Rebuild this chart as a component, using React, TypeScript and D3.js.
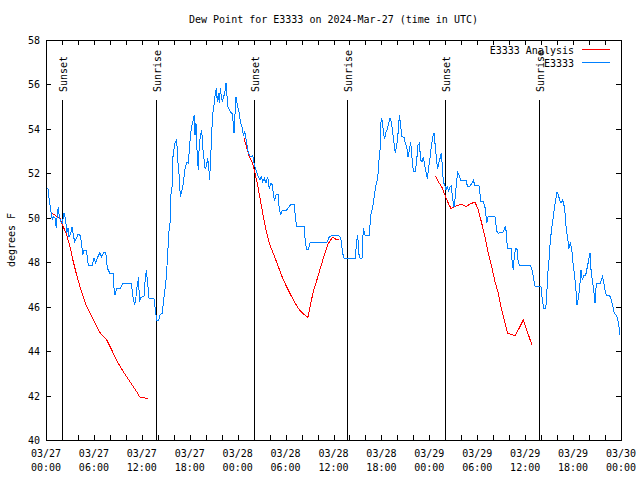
import React from "react";
import * as d3 from "d3";

// Hours since 2024-03-27 00:00 UTC
const stationHours = [0.25,0.34,0.46,0.66,0.79,0.91,1.13,1.29,1.42,1.54,1.67,1.84,2.04,2.25,2.38,2.5,2.59,2.75,2.88,3.09,3.26,3.42,3.59,3.79,4.04,4.26,4.42,4.6,4.76,5.05,5.17,5.3,5.8,6.01,6.22,6.42,6.76,6.97,7.18,7.48,7.68,8.01,8.39,8.52,8.64,8.85,9.35,9.55,9.98,10.68,10.89,11.11,11.27,11.43,11.61,11.68,11.86,12.06,12.27,12.4,12.56,12.73,12.9,13.52,13.69,13.86,14.11,14.28,14.53,14.69,14.86,15.03,15.24,15.36,15.53,15.61,15.78,15.87,16.07,16.19,16.37,16.49,16.69,16.82,16.99,17.19,17.44,17.66,17.82,17.94,18.12,18.28,18.45,18.57,18.66,18.78,18.91,19.07,19.2,19.32,19.5,19.62,19.78,19.91,20.07,20.25,20.37,20.5,20.57,20.7,20.79,20.91,21.08,21.2,21.33,21.45,21.58,21.7,21.83,21.95,22.08,22.25,22.41,22.54,22.67,22.79,22.95,23.13,23.29,23.45,23.54,23.67,23.79,23.92,24.08,24.21,24.33,24.54,24.71,24.88,25.04,25.26,25.46,25.67,25.88,26.01,26.17,26.38,26.58,26.8,26.96,27.14,27.34,27.55,27.76,27.96,28.17,28.39,28.46,28.64,28.8,29.05,29.18,29.39,29.55,30.14,30.43,30.64,31.06,31.27,31.39,32.35,32.47,32.65,32.85,33.06,35.15,35.48,35.78,36.6,36.9,37.15,37.32,38.73,38.91,39.04,39.16,39.32,39.57,39.73,39.94,40.48,40.66,40.91,41.16,41.32,41.49,41.66,41.74,41.83,41.92,41.96,42.05,42.17,42.25,42.33,42.42,42.5,42.74,42.92,43.08,43.25,43.42,43.58,43.74,43.92,44.08,44.25,44.42,44.58,44.83,44.99,45.17,45.33,45.5,45.67,45.83,46.0,46.25,46.42,46.58,46.75,46.92,47.08,47.25,47.42,47.58,47.75,47.92,48.08,48.25,48.42,48.59,48.75,48.92,49.05,49.17,49.34,49.5,49.63,49.75,49.93,50.09,50.25,50.43,50.59,50.75,50.93,51.09,51.25,51.43,51.55,51.75,51.93,52.59,52.76,53.09,53.34,53.51,53.68,54.26,54.43,54.76,55.01,55.19,55.35,56.22,56.44,56.64,57.27,57.48,57.64,57.77,58.23,58.39,58.52,58.64,58.82,58.98,59.14,59.32,60.61,60.82,61.02,61.23,61.98,62.15,62.33,62.58,62.7,62.83,62.99,63.15,63.33,63.49,63.65,63.83,63.99,64.15,64.33,64.49,64.66,64.83,64.99,65.15,65.33,65.49,65.65,65.83,65.99,66.15,66.33,66.49,66.66,66.83,66.99,67.16,67.33,67.58,67.83,67.99,68.12,68.25,68.41,68.58,68.75,68.91,69.41,69.66,69.83,70.0,70.16,70.41,70.66,70.83,71.0,71.16,71.41,71.58,71.75,71.88];
const stationValues = [51.32,51.0,50.67,50.2,49.9,50.05,50.0,49.54,50.2,50.5,50.05,49.82,49.75,50.23,50.05,49.75,49.3,49.54,49.15,49.3,49.6,49.22,48.92,49.08,49.27,49.2,48.92,48.32,48.55,48.55,48.22,47.87,47.87,48.19,47.96,48.19,48.43,48.22,48.43,48.43,47.73,47.5,47.5,46.83,46.52,46.8,46.83,47.02,47.05,47.05,46.45,46.07,46.45,46.97,47.35,46.22,46.4,46.45,46.45,47.12,47.65,47.05,46.38,46.38,45.85,45.37,45.37,45.62,45.7,46.15,46.67,47.2,48.32,49.3,49.75,50.95,51.4,52.67,53.2,53.42,53.5,52.6,51.85,50.95,51.17,51.55,52.3,52.52,52.45,53.05,53.8,54.17,54.4,54.62,53.72,54.25,53.05,52.15,53.35,53.65,53.95,53.2,52.67,52.22,52.3,52.67,52.3,51.7,52.45,53.27,54.1,54.77,55.15,55.6,55.82,55.22,55.6,55.15,55.82,55.45,55.22,55.45,55.67,56.05,55.45,55.0,54.85,54.75,54.7,54.25,53.8,54.7,55.45,55.15,54.85,54.7,54.32,54.1,53.72,53.87,53.57,53.05,52.82,52.75,52.82,52.52,52.3,52.07,51.85,51.7,51.85,51.62,51.77,51.55,51.85,51.32,51.55,51.47,50.95,50.8,51.02,51.05,50.5,50.12,50.32,50.35,50.5,50.6,50.6,49.9,49.6,49.6,48.85,48.58,48.58,48.88,48.88,49.15,49.2,49.2,49.12,48.4,48.17,48.17,49.0,49.22,48.4,48.17,48.17,49.52,49.22,49.22,50.12,50.5,51.1,51.47,51.7,52.22,52.97,53.05,53.95,54.4,54.47,54.1,53.95,53.65,53.57,53.8,54.0,54.25,54.47,54.3,53.8,53.35,52.9,53.27,53.8,54.62,54.1,53.65,53.62,53.35,53.2,52.75,53.05,53.42,52.67,52.07,52.07,52.6,53.27,53.35,52.6,52.52,52.75,52.37,52.07,51.77,52.3,52.67,53.2,53.65,53.8,53.2,52.52,52.22,52.45,52.67,52.9,52.3,51.62,51.47,51.25,51.4,51.2,51.4,51.43,50.8,50.5,50.95,51.7,52.03,51.92,51.7,51.7,51.43,51.43,51.55,51.7,51.47,51.43,50.72,50.72,50.42,49.75,50.05,50.05,49.4,49.3,49.37,49.6,49.37,48.62,48.62,47.95,47.65,48.32,48.62,48.57,47.95,47.87,47.87,47.7,47.35,46.93,46.9,46.3,45.92,45.92,46.52,47.5,48.1,49.0,49.52,49.97,50.42,50.8,51.17,51.02,50.8,50.65,50.8,50.65,50.2,49.45,49.07,48.62,48.85,48.62,47.95,47.5,46.9,46.07,46.37,46.9,47.65,47.2,47.42,47.42,47.87,48.17,48.4,47.65,47.2,46.75,46.15,47.05,47.05,47.35,47.12,46.75,46.52,46.52,46.45,46.22,46.0,45.7,45.62,45.47,45.1,44.72];

// Analysis series, null marks a gap between runs
const analysisHours = [0.66,1.13,1.75,2.09,2.59,3.01,3.42,3.84,4.26,4.67,5.1,5.72,6.35,6.76,7.6,8.23,8.93,9.68,10.52,11.36,11.77,12.18,12.81,null,24.79,25.46,25.88,26.17,26.51,26.8,27.14,27.55,27.96,28.46,29.09,29.72,30.34,30.97,31.59,32.22,32.81,33.06,33.47,34.1,34.72,35.35,35.9,36.31,36.73,null,48.75,49.12,49.55,49.96,50.38,50.71,51.0,51.63,52.05,52.59,53.09,53.72,54.13,54.56,54.97,55.39,55.81,56.22,56.64,57.06,57.48,57.82,58.32,58.73,59.23,59.77,60.2,60.82];
const analysisValues = [50.23,50.12,49.97,49.67,49.22,48.7,48.02,47.42,46.9,46.45,46.0,45.55,45.1,44.83,44.5,44.05,43.52,43.07,42.62,42.17,41.92,41.9,41.87,null,53.57,52.75,52.45,52.0,51.47,50.87,50.2,49.45,48.85,48.4,47.8,47.2,46.75,46.3,45.92,45.67,45.52,46.0,46.67,47.42,48.17,48.85,49.12,49.03,49.03,null,51.88,51.62,51.4,51.02,50.65,50.42,50.47,50.57,50.6,50.5,50.62,50.71,50.35,49.75,49.15,48.4,47.8,47.12,46.6,45.85,45.25,44.8,44.75,44.68,45.02,45.4,44.95,44.3];

const sunHours = [2.04, 13.81, 26.08, 37.72, 50.0, 61.77];
const sunLabels = ["Sunset", "Sunrise", "Sunset", "Sunrise", "Sunset", "Sunrise"];

const xTickHours = [0, 6, 12, 18, 24, 30, 36, 42, 48, 54, 60, 66, 72];
const xTickDates = ["03/27", "03/27", "03/27", "03/27", "03/28", "03/28", "03/28", "03/28", "03/29", "03/29", "03/29", "03/29", "03/30"];
const xTickTimes = ["00:00", "06:00", "12:00", "18:00", "00:00", "06:00", "12:00", "18:00", "00:00", "06:00", "12:00", "18:00", "00:00"];
const yTicks = [40, 42, 44, 46, 48, 50, 52, 54, 56, 58];

const seriesNames = ["E3333 Analysis", "E3333"];
const seriesColors = ["#ff0000", "#0080ff"];

const W = 640, H = 480;
const L = 46, R = 621, T = 40, B = 440;
const FONT = "'DejaVu Sans Mono', monospace";

export default function App() {
  const x = d3.scaleLinear().domain([0, 72]).range([L, R]);
  const y = d3.scaleLinear().domain([40, 58]).range([B, T]);

  const station = stationHours.map((h, i) => [h, stationValues[i]] as [number, number]);
  const analysis = analysisHours.map((h, i) => [h, analysisValues[i]] as [number | null, number | null]);

  const line = d3.line<[number, number]>().x(d => x(d[0])).y(d => y(d[1]));
  const lineA = d3
    .line<[number | null, number | null]>()
    .defined(d => d[0] != null && d[1] != null)
    .x(d => x(d[0] as number))
    .y(d => y(d[1] as number));

  const minorTicks = d3.range(0, 73, 2);
  const tk = 5;

  return (
    <svg
      width={W}
      height={H}
      style={{ position: "absolute", left: 0, top: 0, background: "#fff" }}
      fontFamily={FONT}
      fontSize={10}
    >
      <rect x={0} y={0} width={W} height={H} fill="#fff" />
      <text x={(L + R) / 2} y={23} textAnchor="middle">
        Dew Point for E3333 on 2024-Mar-27 (time in UTC)
      </text>
      <text transform={`translate(15,${(T + B) / 2}) rotate(-90)`} textAnchor="middle">
        degrees F
      </text>

      <g shapeRendering="crispEdges" stroke="#000" strokeWidth={1}>
        {yTicks.map(v => (
          <g key={"y" + v}>
            <line x1={L} x2={L + tk} y1={Math.round(y(v)) + 0.5} y2={Math.round(y(v)) + 0.5} />
            <line x1={R - tk} x2={R} y1={Math.round(y(v)) + 0.5} y2={Math.round(y(v)) + 0.5} />
          </g>
        ))}
        {minorTicks.map(h => (
          <g key={"x" + h}>
            <line x1={Math.round(x(h)) + 0.5} x2={Math.round(x(h)) + 0.5} y1={B} y2={B - tk} />
            <line x1={Math.round(x(h)) + 0.5} x2={Math.round(x(h)) + 0.5} y1={T} y2={T + tk} />
          </g>
        ))}
      </g>

      {yTicks.map(v => (
        <text key={"yl" + v} x={L - 6} y={y(v) + 4} textAnchor="end">
          {v}
        </text>
      ))}
      {xTickHours.map((h, i) => (
        <g key={"xl" + h}>
          <text x={x(h)} y={457} textAnchor="middle">{xTickDates[i]}</text>
          <text x={x(h)} y={471} textAnchor="middle">{xTickTimes[i]}</text>
        </g>
      ))}

      {sunHours.map((h, i) => (
        <g key={"s" + i}>
          <line
            x1={Math.round(x(h)) + 0.5}
            x2={Math.round(x(h)) + 0.5}
            y1={100}
            y2={B}
            stroke="#000"
            shapeRendering="crispEdges"
          />
          <text transform={`translate(${x(h) + 4.5},92) rotate(-90)`} textAnchor="start">
            {sunLabels[i]}
          </text>
        </g>
      ))}

      <path d={lineA(analysis) || ""} fill="none" stroke={seriesColors[0]} strokeWidth={1} shapeRendering="crispEdges" />
      <path d={line(station) || ""} fill="none" stroke={seriesColors[1]} strokeWidth={1} shapeRendering="crispEdges" />

      {seriesNames.map((n, i) => (
        <g key={"lg" + i}>
          <text x={574} y={54 + i * 13} textAnchor="end">{n}</text>
          <line
            x1={582}
            x2={610}
            y1={49.5 + i * 13}
            y2={49.5 + i * 13}
            stroke={seriesColors[i]}
            shapeRendering="crispEdges"
          />
        </g>
      ))}

      <rect x={L + 0.5} y={T + 0.5} width={R - L} height={B - T} fill="none" stroke="#000" shapeRendering="crispEdges" />
    </svg>
  );
}
